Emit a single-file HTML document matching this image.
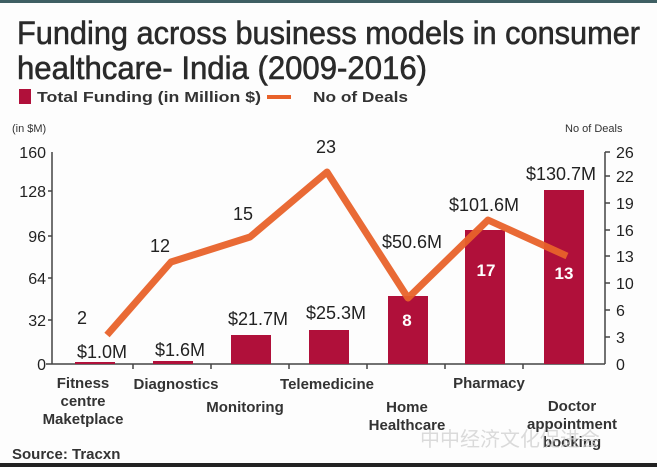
<!DOCTYPE html>
<html><head><style>body{margin:0;background:#fff}svg{display:block}</style></head><body>
<svg width="657" height="467" viewBox="0 0 657 467" xmlns="http://www.w3.org/2000/svg" font-family="Liberation Sans, DejaVu Sans, sans-serif">
<rect width="657" height="467" fill="#fdfdfd"/>
<rect x="0" y="0" width="657" height="3" fill="#3f5f63"/>
<g stroke="#2a2a2a" stroke-width="0.6">
<text x="17" y="44" font-size="32" fill="#2a2a2a" textLength="623" lengthAdjust="spacingAndGlyphs">Funding across business models in consumer</text>
<text x="17" y="79" font-size="32" fill="#2a2a2a" textLength="410" lengthAdjust="spacingAndGlyphs">healthcare- India (2009-2016)</text>
</g>
<rect x="19" y="89" width="12" height="15" fill="#b0103a"/>
<text x="37" y="102" font-size="15" font-weight="bold" fill="#333" textLength="224" lengthAdjust="spacingAndGlyphs">Total Funding (in Million $)</text>
<rect x="267" y="95" width="24" height="4" fill="#e8622a"/>
<text x="313" y="102" font-size="15" font-weight="bold" fill="#333" textLength="95" lengthAdjust="spacingAndGlyphs">No of Deals</text>
<text x="12" y="132" font-size="11" fill="#333">(in $M)</text>
<text x="565" y="132" font-size="11" fill="#333">No of Deals</text>
<g stroke="#444" stroke-width="1.5" fill="none">
<line x1="52" y1="152" x2="52" y2="364"/><line x1="46" y1="364" x2="605" y2="364"/>
<line x1="605" y1="152" x2="605" y2="364"/>
</g>
<g font-size="16" fill="#222" text-anchor="end">
<text x="46" y="158">160</text><text x="46" y="197">128</text><text x="46" y="242">96</text><text x="46" y="284">64</text><text x="46" y="326">32</text><text x="46" y="370">0</text>
</g>
<g stroke="#444" stroke-width="1.5"><line x1="48" y1="191" x2="52" y2="191"/><line x1="48" y1="236" x2="52" y2="236"/><line x1="48" y1="278" x2="52" y2="278"/><line x1="48" y1="320" x2="52" y2="320"/>
<line x1="605" y1="152" x2="610" y2="152"/><line x1="605" y1="176" x2="610" y2="176"/><line x1="605" y1="203" x2="610" y2="203"/><line x1="605" y1="230" x2="610" y2="230"/><line x1="605" y1="256" x2="610" y2="256"/><line x1="605" y1="283" x2="610" y2="283"/><line x1="605" y1="310" x2="610" y2="310"/><line x1="605" y1="337" x2="610" y2="337"/>
<line x1="133" y1="364" x2="133" y2="369"/><line x1="211" y1="364" x2="211" y2="369"/><line x1="289" y1="364" x2="289" y2="369"/><line x1="367" y1="364" x2="367" y2="369"/><line x1="445" y1="364" x2="445" y2="369"/><line x1="523" y1="364" x2="523" y2="369"/></g>
<g font-size="16" fill="#222">
<text x="616" y="158">26</text><text x="616" y="182">22</text><text x="616" y="209">19</text><text x="616" y="236">16</text><text x="616" y="262">13</text><text x="616" y="289">10</text><text x="616" y="316">6</text><text x="616" y="343">3</text><text x="616" y="370">0</text>
</g>
<g fill="#b0103a">
<rect x="75" y="362" width="40" height="2"/>
<rect x="153" y="361" width="40" height="3"/>
<rect x="231" y="335" width="40" height="29"/>
<rect x="309" y="330" width="40" height="34"/>
<rect x="388" y="296" width="40" height="68"/>
<rect x="465" y="230" width="40" height="134"/>
<rect x="544" y="190" width="40" height="174"/>
</g>
<polyline points="107,335 171,262 250,237 327,172 408,298 488,220 567,256" fill="none" stroke="#e8622a" stroke-width="7" stroke-linejoin="round" opacity="0.95"/>
<g font-size="18" fill="#222" text-anchor="middle">
<text x="82" y="324">2</text><text x="160" y="252">12</text><text x="243" y="220">15</text><text x="326" y="153">23</text>
<text x="102" y="358">$1.0M</text><text x="180" y="356">$1.6M</text><text x="258" y="325">$21.7M</text><text x="336" y="319">$25.3M</text>
<text x="412" y="248">$50.6M</text><text x="484" y="211">$101.6M</text><text x="561" y="180">$130.7M</text>
</g>
<g font-size="17" fill="#fff" font-weight="bold" text-anchor="middle"><text x="407" y="326">8</text><text x="486" y="276">17</text><text x="564" y="279">13</text></g>
<g font-size="15" font-weight="bold" fill="#333" text-anchor="middle">
<text x="83" y="388">Fitness</text><text x="83" y="406">centre</text><text x="83" y="424">Maketplace</text>
<text x="176" y="389">Diagnostics</text><text x="245" y="412">Monitoring</text>
<text x="327" y="389">Telemedicine</text><text x="407" y="412">Home</text><text x="407" y="430">Healthcare</text>
<text x="489" y="388">Pharmacy</text><text x="572" y="411">Doctor</text><text x="572" y="429">appointment</text><text x="572" y="447">booking</text>
</g>
<text x="12" y="459" font-size="15" font-weight="bold" fill="#333">Source: Tracxn</text>
<text x="420" y="446" font-size="20" fill="#ccc" opacity="0.7">中中经济文化促进会</text>
<rect x="0" y="463" width="657" height="4" fill="#222"/>
</svg>
</body></html>
